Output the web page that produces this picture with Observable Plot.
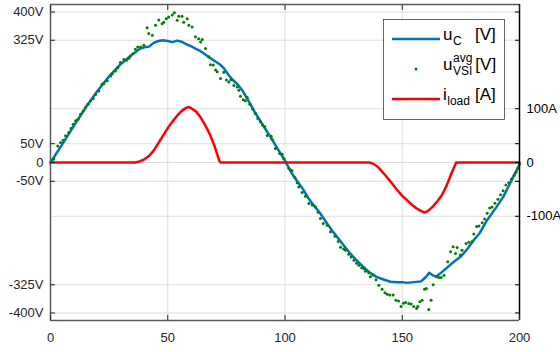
<!DOCTYPE html>
<html><head><meta charset="utf-8">
<script src="https://cdn.jsdelivr.net/npm/d3@7"></script>
<script src="https://cdn.jsdelivr.net/npm/@observablehq/plot@0.6"></script>
<style>body{margin:0;background:#fff} svg{display:block}</style>
</head><body><div id="chart"></div>
<script>
const xDomain=[0,200];
const yDomain=[-420,420];
const xTicks=[0,50,100,150,200];
const voltTicks=[-400,-325,-50,0,50,325,400];
const voltLabels=["-400V","-325V","-50V","0","50V","325V","400V"];
const currentTicks=[-100,0,100];
const currentLabels=["-100A","0","100A"];
const voltsPerAmp=1.43;

const ucX=[0,5,10,15,20,25,30,35,38,40,42,44,46,48,50,52,54,56,58,60,62,64,66,68,70,72,74,76,78,80,82,85,87,90,94,97,100,103,105,108,110,112,115,118,120,122,125,127,130,133,136,139,142,145,148,150,152,155,158,160,161.5,163,164.5,166,169,172,175,178,180.5,183,186,190,193,196,200];
const ucY=[0,48,98,146,190,229,262,288,302,306,308,318,323,325,323,320,324,321,314,309,302,296,287,278,270,262,250,232,218,206,190,158,135,105,66,35,5,-30,-48,-74,-95,-112,-135,-163,-180,-196,-220,-236,-257,-275,-292,-304,-311,-317,-318,-318,-320,-318,-316,-305,-293,-300,-303,-296,-280,-264,-250,-228,-206,-188,-155,-120,-92,-55,-5];

const iX=[0,36,38,40,42,44,46,48,50,52,54,56,58,59,60,62,64,66,68,70,72,72.5,136,138,140,142,144,146,148,150,152,154,156,158,159.5,161,163,165,167,169,171,173,200];
const iY=[0,0,2,6,12,22,36,50,64,76,87,96,102,103,101,95,84,69,52,30,3,0,0,-3,-10,-20,-30,-41,-52,-62,-70,-78,-85,-90,-93,-90,-82,-72,-60,-42,-20,0,0];

const dotX=[1.4,3.1,4.3,5.4,6.4,7.8,8.8,9.7,10.7,11.7,12.8,13.9,14.9,15.9,17.1,18.2,19.2,20.6,22.0,22.7,24.2,25.6,26.3,27.7,28.7,29.8,31.3,32.4,33.4,34.1,35.2,36.2,37.2,38.4,39.8,41.2,41.9,43.4,44.8,46.2,47.6,48.3,49.4,50.4,51.9,52.8,54.0,54.7,56.1,56.8,58.3,59.0,60.4,61.8,63.2,64.0,64.7,66.1,67.5,68.2,69.4,70.4,71.1,72.5,73.9,75.0,76.0,76.9,78.2,79.6,80.3,81.0,82.2,83.1,83.9,85.0,86.2,87.4,88.4,89.5,90.5,91.4,92.4,94.1,94.5,95.9,97.8,98.8,99.5,101.6,102.3,103.0,104.2,105.2,105.9,107.3,108.7,110.2,111.6,113.0,114.1,115.1,116.3,118.0,119.4,121.3,122.7,123.7,125.0,125.8,127.2,128.2,129.4,130.5,131.5,132.7,133.6,134.3,135.7,136.4,137.5,138.8,140.0,141.4,142.6,143.6,144.7,146.1,147.3,148.4,149.5,150.5,151.4,152.8,153.8,154.9,156.1,156.6,157.5,158.5,159.5,160.3,161.3,162.3,163.2,164.6,165.6,166.6,167.8,169.4,170.6,171.7,172.7,173.4,174.8,175.5,177.2,178.4,179.8,180.5,181.7,182.7,184.1,185.1,186.2,187.3,188.3,189.5,190.8,191.9,193.0,194.2,195.4,196.6,197.7,198.6,199.4,200];
const dotY=[9,44,53,59,71,80,91,102,111,115,128,137,146,155,164,170,181,190,208,210,217,230,235,243,252,266,274,272,277,283,289,301,307,307,312,358,343,338,365,379,369,373,382,387,392,398,378,389,389,373,382,365,360,334,329,320,327,303,281,260,259,246,241,223,240,219,214,220,205,201,192,176,167,164,173,155,142,130,117,108,99,95,72,70,61,37,24,22,10,-16,-20,-22,-40,-54,-65,-80,-90,-109,-113,-118,-132,-149,-162,-167,-184,-196,-210,-225,-230,-233,-244,-251,-260,-268,-273,-280,-282,-289,-293,-304,-299,-312,-326,-337,-346,-350,-352,-352,-366,-368,-383,-374,-372,-375,-376,-383,-388,-383,-370,-366,-337,-335,-391,-366,-325,-304,-306,-306,-300,-264,-237,-224,-242,-226,-246,-233,-215,-212,-210,-190,-170,-169,-160,-150,-135,-121,-118,-108,-98,-86,-75,-60,-54,-44,-34,-25,-15,-4];

const ucData=ucX.map((x,k)=>({x,y:ucY[k]}));
const iData=iX.map((x,k)=>({x,i:iY[k]}));
const dotData=dotX.map((x,k)=>({x,y:dotY[k]}));

const font="Liberation Sans, Arial, Helvetica, sans-serif";
const gridColor="#dfdfdf";
const axisGray="#5a5a5a";

const chart=Plot.plot({
  width:560,height:352,
  marginLeft:50,marginRight:41,marginTop:4,marginBottom:32,
  x:{domain:xDomain},
  y:{domain:yDomain},
  style:{fontFamily:font,fontSize:"13px",color:"#262626",background:"#fff",overflow:"visible"},
  marks:[
    Plot.gridX(xTicks,{stroke:gridColor,strokeOpacity:1}),
    Plot.gridY(voltTicks,{stroke:gridColor,strokeOpacity:1}),
    Plot.gridY(currentTicks.map(c=>c*voltsPerAmp),{stroke:gridColor,strokeOpacity:1}),
    Plot.line(ucData,{x:"x",y:"y",stroke:"#0072BD",strokeWidth:2.5}),
    Plot.dot(dotData,{x:"x",y:"y",r:1.5,fill:"#008000",stroke:null}),
    Plot.line(iData,{x:"x",y:d=>d.i*voltsPerAmp,stroke:"#FF0000",strokeWidth:2.5}),
    Plot.ruleY([yDomain[1]],{stroke:axisGray,strokeWidth:1.5}),
    Plot.ruleY([yDomain[0]],{stroke:axisGray,strokeWidth:1.5}),
    Plot.ruleX([xDomain[0]],{stroke:axisGray,strokeWidth:1.5}),
    Plot.ruleX([xDomain[1]],{stroke:"#000",strokeWidth:1.5}),
    Plot.axisX(xTicks,{anchor:"bottom",tickSize:-5,tickPadding:17,tickFormat:d=>String(d),stroke:"#262626",fill:"#262626",fontSize:13,label:null}),
    Plot.axisX(xTicks,{anchor:"top",tickSize:-5,tickFormat:()=>"",stroke:"#262626",label:null}),
    Plot.axisY(voltTicks,{anchor:"left",tickSize:-5,tickPadding:12,tickFormat:d=>voltLabels[voltTicks.indexOf(d)],stroke:"#262626",fill:"#262626",fontSize:13,label:null}),
    Plot.axisY(voltTicks,{anchor:"right",tickSize:-5,tickFormat:()=>"",stroke:"#000",label:null}),
    Plot.axisY(currentTicks.map(c=>c*voltsPerAmp),{anchor:"right",tickSize:-5,tickPadding:12,tickFormat:d=>currentLabels[currentTicks.indexOf(Math.round(d/voltsPerAmp))],stroke:"#000",fill:"#000",fontSize:13,label:null})
  ]
});
document.getElementById("chart").appendChild(chart);

// legend
const legendEntries=[
  {base:"u",sup:null,sub:"C",unit:"[V]",kind:"line",color:"#0072BD"},
  {base:"u",sup:"avg",sub:"VSI",unit:"[V]",kind:"dot",color:"#008000"},
  {base:"i",sup:null,sub:"load",unit:"[A]",kind:"line",color:"#FF0000"}
];
const svg=d3.select(chart);
const lg=svg.append("g").attr("font-family",font).attr("fill","#000").attr("text-anchor","start");
lg.append("rect").attr("x",383.5).attr("y",19.5).attr("width",121).attr("height",100)
  .attr("fill","#fff").attr("stroke","#262626").attr("stroke-width",0.7);
const rowY=[39,69,99];
const big=17, small=12;
legendEntries.forEach((e,k)=>{
  const y=rowY[k];
  if(e.kind==="line"){
    lg.append("line").attr("x1",392).attr("x2",440).attr("y1",y).attr("y2",y)
      .attr("stroke",e.color).attr("stroke-width",2.5);
  } else {
    lg.append("circle").attr("cx",416).attr("cy",y).attr("r",1.5).attr("fill",e.color);
  }
  const bx=443, by=y+1;
  const t=lg.append("text").attr("x",bx).attr("y",by).attr("font-size",big).text(e.base);
  const bw=t.node().getComputedTextLength();
  const sx=bx+bw+0.5;
  let w=0;
  if(e.sup){
    const s=lg.append("text").attr("x",sx).attr("y",by-8).attr("font-size",small).text(e.sup);
    w=Math.max(w,s.node().getComputedTextLength());
  }
  const sb=lg.append("text").attr("x",sx).attr("y",by+5).attr("font-size",small).text(e.sub);
  w=Math.max(w,sb.node().getComputedTextLength());
  lg.append("text").attr("x",Math.max(475,sx+w+3)).attr("y",by).attr("font-size",big).text(e.unit);
});
</script>
</body></html>
